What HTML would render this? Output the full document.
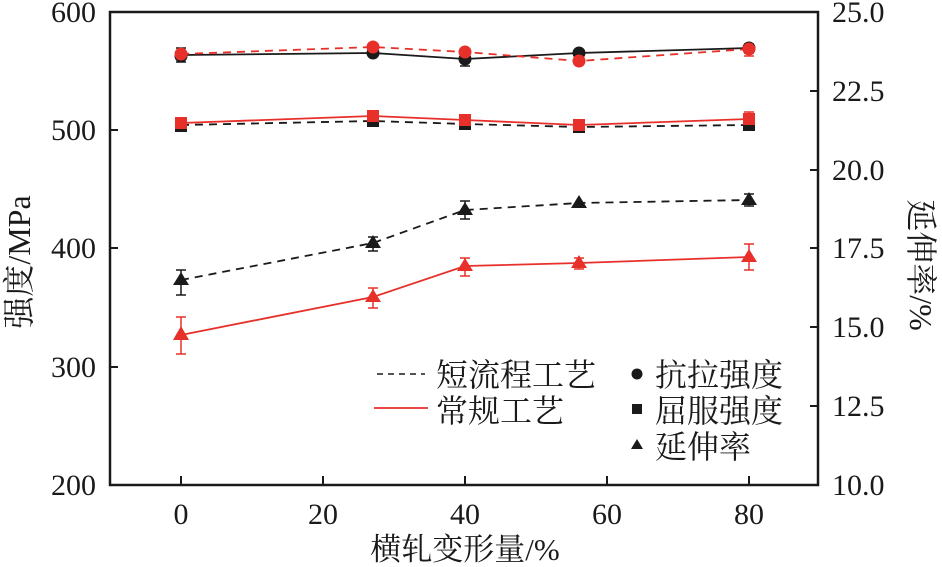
<!DOCTYPE html>
<html><head><meta charset="utf-8"><style>
html,body{margin:0;padding:0;background:#fff}
svg{display:block}
text{font-family:"Liberation Serif","Noto Serif CJK SC",serif;fill:#1a1a1a}
.cj{font-family:"Liberation Serif","Noto Serif CJK SC",serif}
</style></head><body>
<svg width="942" height="567" viewBox="0 0 942 567">
<rect x="110" y="12" width="708" height="473" fill="none" stroke="#1a1a1a" stroke-width="2.5"/>
<g stroke="#1a1a1a" stroke-width="2">
<line x1="110" y1="130" x2="118" y2="130"/><line x1="110" y1="248" x2="118" y2="248"/><line x1="110" y1="367" x2="118" y2="367"/>
<line x1="818" y1="91" x2="810" y2="91"/><line x1="818" y1="170" x2="810" y2="170"/><line x1="818" y1="248" x2="810" y2="248"/><line x1="818" y1="327" x2="810" y2="327"/><line x1="818" y1="406" x2="810" y2="406"/>
<line x1="181" y1="485" x2="181" y2="476"/><line x1="323" y1="485" x2="323" y2="476"/><line x1="465" y1="485" x2="465" y2="476"/><line x1="607" y1="485" x2="607" y2="476"/><line x1="749" y1="485" x2="749" y2="476"/>
</g>
<g font-size="30" text-anchor="end">
<text x="96" y="22">600</text><text x="96" y="140">500</text><text x="96" y="258">400</text><text x="96" y="377">300</text><text x="96" y="495">200</text>
</g>
<g font-size="30" text-anchor="start">
<text x="832" y="22">25.0</text><text x="832" y="101">22.5</text><text x="832" y="180">20.0</text><text x="832" y="258">17.5</text><text x="832" y="337">15.0</text><text x="832" y="416">12.5</text><text x="832" y="495">10.0</text>
</g>
<g font-size="30" text-anchor="middle">
<text x="181" y="524">0</text><text x="323" y="524">20</text><text x="465" y="524">40</text><text x="607" y="524">60</text><text x="749" y="524">80</text>
</g>
<text class="cj" x="465" y="560" font-size="31" text-anchor="middle">横轧变形量/%</text>
<text class="cj" transform="translate(30,262) rotate(-90)" font-size="32" text-anchor="middle">强度/MPa</text>
<text class="cj" transform="translate(910,265) rotate(90)" font-size="32" text-anchor="middle">延伸率/%</text>

<g stroke="#1a1a1a" stroke-width="1.5">
<path d="M181,48V62M176,48h10M176,62h10 M749,44V53M744,44h10M744,53h10 M465,53V66M460,53h10M460,66h10"/>
<path d="M181,270V295M176,270h10M176,295h10 M373,237V251M368,237h10M368,251h10 M465,201V219M460,201h10M460,219h10 M579,199V207 M749,194V206M744,194h10M744,206h10"/>
<path d="M181,119V131M176,131h10"/>
</g>
<g stroke="#e8302a" stroke-width="1.5">
<path d="M181,317V354M176,317h10M176,354h10 M373,288V308M368,288h10M368,308h10 M465,258V276M460,258h10M460,276h10 M579,258V269M574,258h10M574,269h10 M749,244V270M744,244h10M744,270h10"/>
<path d="M749,43V56M744,56h10 M749,112V124M744,112h10"/>
</g>

<polyline points="181,55 373,53 465,59 579,53 749,48" fill="none" stroke="#1a1a1a" stroke-width="1.8"/>
<polyline points="181,54 373,47 465,52 579,61 749,49" fill="none" stroke="#e8302a" stroke-width="1.8" stroke-dasharray="8,6"/>
<polyline points="181,125 373,121 465,124 579,127 749,125" fill="none" stroke="#1a1a1a" stroke-width="1.8" stroke-dasharray="8,6"/>
<polyline points="181,123 373,116 465,120 579,125 749,119" fill="none" stroke="#e8302a" stroke-width="1.8"/>
<polyline points="181,280 373,243 465,210 579,203 749,200" fill="none" stroke="#1a1a1a" stroke-width="1.8" stroke-dasharray="8,6"/>
<polyline points="181,335 373,297 465,266 579,263 749,257" fill="none" stroke="#e8302a" stroke-width="1.8"/>

<g fill="#1a1a1a">
<circle cx="181" cy="56" r="6.5"/><circle cx="373" cy="53" r="6.5"/><circle cx="465" cy="59" r="6.5"/><circle cx="579" cy="53" r="6.5"/><circle cx="749" cy="48" r="6.5"/>
<rect x="175" y="120" width="12" height="12"/><rect x="367" y="115" width="12" height="12"/><rect x="459" y="118" width="12" height="12"/><rect x="573" y="121" width="12" height="12"/><rect x="743" y="119" width="12" height="12"/>
<path d="M181,272l8,13h-16z M373,235l8,13h-16z M465,202l8,13h-16z M579,195l8,13h-16z M749,192l8,13h-16z"/>
</g>
<g fill="#e8302a">
<circle cx="181" cy="54" r="6.5"/><circle cx="373" cy="47" r="6.5"/><circle cx="465" cy="52" r="6.5"/><circle cx="579" cy="61" r="6.5"/><circle cx="749" cy="49" r="6.5"/>
<rect x="175" y="117" width="12" height="12"/><rect x="367" y="110" width="12" height="12"/><rect x="459" y="114" width="12" height="12"/><rect x="573" y="119" width="12" height="12"/><rect x="743" y="113" width="12" height="12"/>
<path d="M181,326l8,14h-16z M373,289l8,13h-16z M465,258l8,13h-16z M579,255l8,13h-16z M749,249l8,13h-16z"/>
</g>

<line x1="377" y1="374" x2="425" y2="374" stroke="#1a1a1a" stroke-width="1.5" stroke-dasharray="6,5"/>
<line x1="374" y1="408" x2="428" y2="408" stroke="#e8302a" stroke-width="1.8"/>
<text class="cj" x="436" y="386" font-size="32">短流程工艺</text>
<text class="cj" x="436" y="422" font-size="32">常规工艺</text>
<circle cx="637" cy="374" r="5.5" fill="#1a1a1a"/>
<rect x="632" y="404" width="10" height="10" fill="#1a1a1a"/>
<path d="M637,439l6,10h-12z" fill="#1a1a1a"/>
<text class="cj" x="655" y="386" font-size="32">抗拉强度</text>
<text class="cj" x="655" y="422" font-size="32">屈服强度</text>
<text class="cj" x="655" y="458" font-size="32">延伸率</text>
</svg>
</body></html>
